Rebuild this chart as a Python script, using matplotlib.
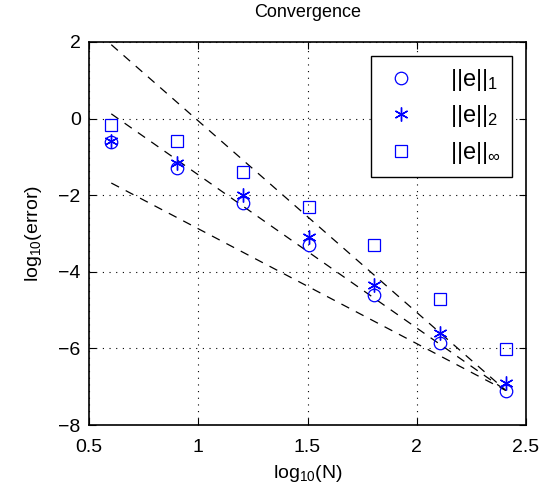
import numpy as np
import matplotlib
matplotlib.use("Agg")
import matplotlib.pyplot as plt

plt.rcParams["font.family"] = ["Liberation Sans", "DejaVu Sans"]
plt.rcParams["mathtext.fontset"] = "custom"
plt.rcParams["mathtext.rm"] = "Liberation Sans"
plt.rcParams["mathtext.it"] = "Liberation Sans"

# log10(N) for N = 4 ... 256
log_n = [0.602, 0.903, 1.204, 1.505, 1.806, 2.107, 2.408]
err_1 = [-0.60, -1.30, -2.20, -3.30, -4.60, -5.85, -7.10]
err_2 = [-0.58, -1.15, -2.00, -3.10, -4.35, -5.60, -6.90]
err_inf = [-0.18, -0.58, -1.40, -2.30, -3.30, -4.72, -6.02]

# reference slopes, anchored at the last point
slopes = [-5, -4, -3]
anchor_y = -7.1

fig = plt.figure(figsize=(5.44, 4.9), dpi=100)
ax = fig.add_axes([89 / 544, 65 / 490, 437 / 544, 383 / 490])

x = np.array(log_n)
for s in slopes:
    ax.plot(x, anchor_y + s * (x - x[-1]), "k--", lw=0.9, dashes=(7, 6))

ax.plot(log_n, err_1, "o", mfc="none", mec="blue", ms=9, mew=0.9, label=r"$||e||_1$")
ax.plot(log_n, err_2, marker=(6, 2, 0), ls="none", color="blue", ms=10, mew=1.0,
        label=r"$||e||_2$")
ax.plot(log_n, err_inf, "s", mfc="none", mec="blue", ms=8, mew=0.9, label=r"$||e||_\infty$")

ax.set_xlim(0.5, 2.5)
ax.set_ylim(-8, 2)
ax.set_xticks([0.5, 1, 1.5, 2, 2.5])
ax.set_xticklabels(["0.5", "1", "1.5", "2", "2.5"])
ax.set_yticks([-8, -6, -4, -2, 0, 2])
ax.set_yticklabels(["\u22128", "\u22126", "\u22124", "\u22122", "0", "2"])
ax.tick_params(direction="in", labelsize=14, length=5, top=True, right=True)
ax.tick_params(axis="x", pad=10)
ax.tick_params(axis="y", pad=6)
ax.grid(True, color="black", linestyle=(0, (1, 5)), lw=0.8)
for sp in ax.spines.values():
    sp.set_linewidth(1.2)

ax.set_title("Convergence", fontsize=13, pad=18)
ax.set_xlabel(r"log$_{10}$(N)", fontsize=14, labelpad=5)
ax.set_ylabel(r"log$_{10}$(error)", fontsize=14, labelpad=10)

leg = ax.legend(loc="upper right", fontsize=17, fancybox=False, framealpha=1,
                edgecolor="black", borderaxespad=0.6, handlelength=1.6,
                handletextpad=1.3, labelspacing=0.45, borderpad=0.45)
leg.get_frame().set_linewidth(1.0)

fig.savefig("out.png", dpi=100)
